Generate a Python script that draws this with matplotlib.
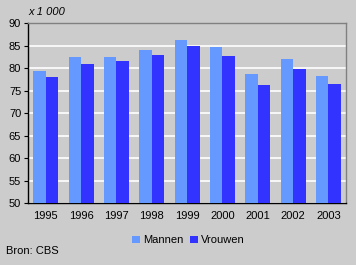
import matplotlib.pyplot as plt
import numpy as np

plt.rcParams['font.family'] = ['Liberation Sans', 'DejaVu Sans']

years = ['1995', '1996', '1997', '1998', '1999', '2000', '2001', '2002', '2003']
mannen = [79.4, 82.5, 82.5, 84.1, 86.3, 84.7, 78.7, 82.1, 78.3]
vrouwen = [78.1, 81.0, 81.6, 83.0, 85.0, 82.7, 76.3, 79.8, 76.5]

bg = '#cccccc'
fig = plt.figure(figsize=(3.56, 2.65), dpi=100, facecolor=bg)
ax = fig.add_axes([0.079, 0.234, 0.893, 0.678], facecolor=bg)

x = np.arange(len(years))
w = 0.355
ax.bar(x - w / 2, mannen, w, color='#6699ff', label='Mannen', zorder=3)
ax.bar(x + w / 2, vrouwen, w, color='#3333ff', label='Vrouwen', zorder=3)

ax.set_xlim(-0.5, len(years) - 0.5)
ax.set_ylim(50, 90)
ax.set_yticks(range(50, 91, 5))
ax.set_xticks(x)
ax.set_xticklabels(years)
ax.yaxis.grid(True, color='white', linewidth=1.2, zorder=0)
ax.tick_params(axis='y', length=3, width=0.8, labelsize=8, pad=2)
ax.tick_params(axis='x', length=0, labelsize=8, pad=6)

for s in ['left', 'bottom']:
    ax.spines[s].set_color('black')
    ax.spines[s].set_linewidth(1)
for s in ['top', 'right']:
    ax.spines[s].set_color('#808080')
    ax.spines[s].set_linewidth(1)

fig.text(0.079, 0.955, 'x 1 000', fontsize=8, style='italic', va='center')
fig.text(0.017, 0.052, 'Bron: CBS', fontsize=8, va='center')

fig.legend(loc='center', bbox_to_anchor=(0.53, 0.093), ncol=2, frameon=False,
           fontsize=8, handlelength=0.7, handleheight=0.7, handletextpad=0.3,
           columnspacing=0.6)

fig.savefig('out.png', dpi=100, facecolor=bg)
